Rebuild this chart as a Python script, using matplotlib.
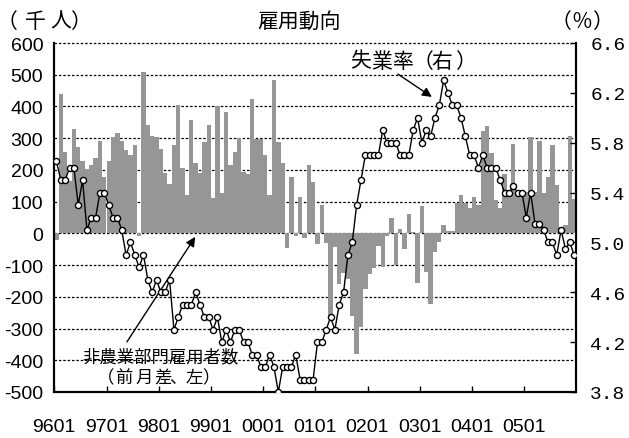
import matplotlib
matplotlib.use('Agg')
import matplotlib.pyplot as plt
import numpy as np

W, H = 629, 439
JP = ['Noto Sans CJK JP', 'DejaVu Sans']
plt.rcParams['font.family'] = ['Liberation Sans', 'DejaVu Sans']
plt.rcParams['axes.unicode_minus'] = False

# x axis labels (yymm), one per year
years = ['9601', '9701', '9801', '9901', '0001', '0101', '0201', '0301', '0401', '0501']

# nonfarm payrolls, change from previous month (thousand), 1996/01 - 2005/12
pay_96 = [-20, 439, 256, 166, 329, 272, 228, 203, 215, 237, 290, 177]
pay_97 = [228, 303, 316, 290, 264, 248, 280, -8, 508, 340, 308, 303]
pay_98 = [266, 190, 156, 280, 405, 206, 121, 358, 221, 190, 287, 342]
pay_99 = [112, 401, 127, 384, 217, 256, 300, 193, 187, 424, 298, 298]
pay_00 = [248, 121, 482, 289, 222, -47, 177, -9, 115, -15, 216, 163]
pay_01 = [-32, 89, -30, -262, -43, -160, -125, -145, -262, -379, -295, -176]
pay_02 = [-128, -108, -40, -105, -8, 50, -101, 14, -50, 61, 4, -158]
pay_03 = [87, -123, -224, -59, -28, 25, 6, 8, 97, 121, 96, 80]
pay_04 = [114, 90, 322, 339, 253, 104, 80, 187, 137, 282, 130, 124]
pay_05 = [131, 303, 129, 290, 127, 179, 279, 152, 19, 26, 306, 107]

# unemployment rate (%)
rate_96 = [5.65, 5.5, 5.5, 5.6, 5.6, 5.3, 5.5, 5.1, 5.2, 5.2, 5.4, 5.4]
rate_97 = [5.3, 5.2, 5.2, 5.1, 4.9, 5.0, 4.9, 4.8, 4.9, 4.7, 4.6, 4.7]
rate_98 = [4.6, 4.6, 4.7, 4.3, 4.4, 4.5, 4.5, 4.5, 4.6, 4.5, 4.4, 4.4]
rate_99 = [4.3, 4.4, 4.2, 4.3, 4.2, 4.3, 4.3, 4.2, 4.2, 4.1, 4.1, 4.0]
rate_00 = [4.0, 4.1, 4.0, 3.8, 4.0, 4.0, 4.0, 4.1, 3.9, 3.9, 3.9, 3.9]
rate_01 = [4.2, 4.2, 4.3, 4.4, 4.3, 4.5, 4.6, 4.9, 5.0, 5.3, 5.5, 5.7]
rate_02 = [5.7, 5.7, 5.7, 5.9, 5.8, 5.8, 5.8, 5.7, 5.7, 5.7, 5.9, 6.0]
rate_03 = [5.8, 5.9, 5.85, 6.0, 6.1, 6.3, 6.2, 6.1, 6.1, 6.0, 5.85, 5.7]
rate_04 = [5.7, 5.6, 5.7, 5.6, 5.6, 5.6, 5.5, 5.4, 5.4, 5.45, 5.4, 5.4]
rate_05 = [5.2, 5.4, 5.15, 5.15, 5.1, 5.0, 5.0, 4.9, 5.1, 4.95, 5.0, 4.9]

payroll = pay_96 + pay_97 + pay_98 + pay_99 + pay_00 + pay_01 + pay_02 + pay_03 + pay_04 + pay_05
rate = rate_96 + rate_97 + rate_98 + rate_99 + rate_00 + rate_01 + rate_02 + rate_03 + rate_04 + rate_05
months = np.arange(len(payroll))

fig = plt.figure(figsize=(W / 100, H / 100), dpi=100)
ax = fig.add_axes([54.3 / W, 1 - 393 / H, (576.3 - 54.3) / W, (393 - 44) / H])

for v in range(-400, 601, 100):
    ax.axhline(v, color='k', lw=0.9, ls=(0, (2, 1.5)), zorder=1, clip_on=False)
ax.bar(months, payroll, width=1.0, color='#969696', zorder=2)
ax.set_xlim(-0.5, len(payroll) - 0.5)
ax.set_ylim(-500, 600)
ax.set_yticks(range(-500, 601, 100))
ax.set_xticks(np.arange(len(years)) * 12 - 0.5)
ax.set_xticklabels(years)
ax.tick_params(axis='y', length=0, pad=8, labelsize=14)
ax.tick_params(axis='x', direction='in', length=4, width=1, pad=19, labelsize=14)

ax2 = ax.twinx()
ax2.plot(months, rate, color='k', lw=1.0, marker='o', ms=4.4,
         mfc='white', mec='k', mew=1.0, zorder=3)
ax2.set_ylim(3.8, 6.6)
rticks = np.arange(3.8, 6.61, 0.4)
ax2.set_yticks(rticks)
ax2.set_yticklabels(['%.1f' % t for t in rticks])
ax2.tick_params(axis='y', direction='in', length=4, width=1, pad=10,
                labelsize=14, labelfontfamily='Liberation Mono')

for a in (ax, ax2):
    a.spines['top'].set_visible(False)
    for s in ('left', 'bottom', 'right'):
        a.spines[s].set_linewidth(1.5)

ax.annotate('', xy=(86.3, 430), xytext=(78.5, 502),
            arrowprops=dict(arrowstyle='-|>', color='k', lw=1, mutation_scale=14,
                            shrinkA=0, shrinkB=0))
ax.annotate('', xy=(31.9, -11), xytext=(16.2, -342),
            arrowprops=dict(arrowstyle='-|>', color='k', lw=1, mutation_scale=14,
                            shrinkA=0, shrinkB=0))


def put(chars, xs, y, size):
    # one glyph per position (pixel x of glyph centre), like the spaced-out original
    for ch, x in zip(chars, xs):
        fig.text(x / W, 1 - y / H, ch, ha='center', va='center',
                 fontsize=size, family=JP)


fig.text(299.5 / W, 1 - 21.5 / H, '雇用動向', ha='center', va='center', fontsize=15, family=JP)
put('（千人）', [6.5, 35, 61, 80], 22, 15)
put('（％）', [560.5, 581.5, 602.5], 22, 15)
put('失業率（右）', [361, 382, 403, 422.5, 442, 465.5], 61.5, 15)
fig.text(160.5 / W, 1 - 357 / H, '非農業部門雇用者数', ha='center', va='center',
         fontsize=12.5, family=JP)
put('（前月差、左）', [105.5, 124, 144, 163, 178, 194.5, 210.5], 378, 12.5)

fig.savefig('out.png', dpi=100)
